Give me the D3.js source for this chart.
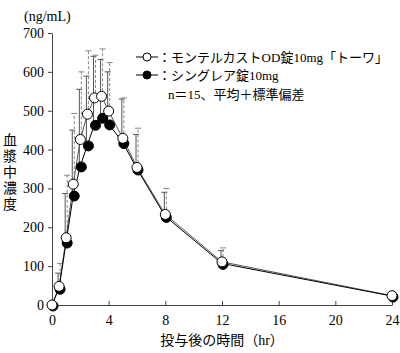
<!DOCTYPE html>
<html>
<head>
<meta charset="utf-8">
<script src="https://cdn.jsdelivr.net/npm/d3@7"></script>
<style>
  body { margin: 0; background: #fff; }
  text { font-family: "Liberation Serif", "Noto Sans CJK JP", serif; fill: #000; }
</style>
</head>
<body>
<div id="chart"></div>
<script>
// time points (hr)
const times = [0, 0.5, 1, 1.5, 2, 2.5, 3, 3.5, 4, 5, 6, 8, 12, 24];
// モンテルカストOD錠10mg「トーワ」 (open circles)
const odMean = [0, 48, 173, 311, 426, 491, 533, 537, 499, 429, 354, 233, 111, 24];
const odUpper = [0, 107, 334, 493, 600, 654, 643, 659, 624, 533, 455, 300, 147, 28];
// シングレア錠10mg (filled circles)
const sgMean = [0, 43, 162, 283, 358, 412, 465, 483, 466, 418, 350, 228, 107, 23];
const sgUpper = [0, 82, 287, 450, 555, 589, 640, 632, 600, 530, 439, 290, 140, 27];

const xTicks = [0, 4, 8, 12, 16, 20, 24];
const yTicks = [0, 100, 200, 300, 400, 500, 600, 700];

const width = 400, height = 353,
      margin = ({ top: 33, right: 8, bottom: 48, left: 52 });

const svg = d3.select("#chart")
  .append("svg")
  .attr("width", width)
  .attr("height", height);

const x = d3.scaleLinear()
  .domain([0, 24])
  .range([margin.left, 392]);

const y = d3.scaleLinear()
  .domain([0, 700])
  .range([305, margin.top]);

// axes
svg.append("g")
  .attr("transform", `translate(0,${y(0)})`)
  .call(d3.axisBottom(x).tickValues(xTicks).tickSizeInner(-4).tickSizeOuter(0).tickPadding(10))
  .call(g => g.selectAll("text").attr("font-size", 14))
  .call(g => g.selectAll("line, path").attr("stroke", "#444"));

svg.append("g")
  .attr("transform", `translate(${x(0)},0)`)
  .call(d3.axisLeft(y).tickValues(yTicks).tickSizeInner(4).tickSizeOuter(0).tickPadding(4))
  .call(g => g.selectAll("text").attr("font-size", 14))
  .call(g => g.selectAll("line, path").attr("stroke", "#444"));

const od = times.map((t, i) => ({ t, mean: odMean[i], upper: odUpper[i] }));
const sg = times.map((t, i) => ({ t, mean: sgMean[i], upper: sgUpper[i] }));

// error bars (mean + SD)
function errorBars(data, cls, color, dash, dx) {
  const g = svg.append("g").attr("class", cls)
    .attr("stroke", color).attr("stroke-width", 1);
  const d2 = data.filter(d => d.upper > d.mean + 1);
  g.selectAll("line.v").data(d2).join("line")
    .attr("class", "v")
    .attr("x1", d => x(d.t) + dx).attr("x2", d => x(d.t) + dx)
    .attr("y1", d => y(d.mean)).attr("y2", d => y(d.upper))
    .attr("stroke-dasharray", dash);
  g.selectAll("line.c").data(d2).join("line")
    .attr("class", "c")
    .attr("x1", d => x(d.t) + dx - 3).attr("x2", d => x(d.t) + dx + 3)
    .attr("y1", d => y(d.upper)).attr("y2", d => y(d.upper));
}
errorBars(sg, "sg-err", "#555", null, -1);
errorBars(od, "od-err", "#888", "3,2", 1);

const line = d3.line().x(d => x(d.t)).y(d => y(d.mean));

svg.append("path").datum(od)
  .attr("fill", "none").attr("stroke", "#555").attr("stroke-width", 1)
  .attr("d", line);
svg.append("path").datum(sg)
  .attr("fill", "none").attr("stroke", "#000").attr("stroke-width", 1)
  .attr("d", line);

svg.append("g").selectAll("circle").data(sg).join("circle")
  .attr("cx", d => x(d.t) + 1).attr("cy", d => y(d.mean) + 1).attr("r", 5)
  .attr("fill", "#000").attr("stroke", "#000");
svg.append("g").selectAll("circle").data(od).join("circle")
  .attr("cx", d => x(d.t)).attr("cy", d => y(d.mean)).attr("r", 5)
  .attr("fill", "#fff").attr("stroke", "#000");

// legend
const legend = [
  { label: "：モンテルカストOD錠10mg「トーワ」", fill: "#fff" },
  { label: "：シングレア錠10mg", fill: "#000" }
];
const lg = svg.append("g").selectAll("g").data(legend).join("g")
  .attr("transform", (d, i) => `translate(136,${57 + i * 18})`);
lg.append("line").attr("x1", 0).attr("x2", 22).attr("y1", 0).attr("y2", 0)
  .attr("stroke", "#000");
lg.append("circle").attr("cx", 11).attr("cy", 0).attr("r", 4)
  .attr("fill", d => d.fill).attr("stroke", "#000");
lg.append("text").attr("x", 22).attr("y", 0).attr("dy", "0.35em")
  .attr("font-size", 13).text(d => d.label);
svg.append("text").attr("x", 168).attr("y", 94).attr("dy", "0.35em")
  .attr("font-size", 13).text("n＝15、平均＋標準偏差");

// axis titles
svg.append("text").attr("x", 24).attr("y", 16).attr("dy", "0.35em")
  .attr("font-size", 14).text("(ng/mL)");
svg.append("text").attr("x", width / 2 + 22).attr("y", 340).attr("dy", "0.35em")
  .attr("text-anchor", "middle").attr("font-size", 14).text("投与後の時間（hr）");
svg.append("g").selectAll("text").data("血漿中濃度".split("")).join("text")
  .attr("x", 10).attr("y", (d, i) => 140 + i * 16).attr("dy", "0.35em")
  .attr("text-anchor", "middle").attr("font-size", 14).text(d => d);
</script>
</body>
</html>
